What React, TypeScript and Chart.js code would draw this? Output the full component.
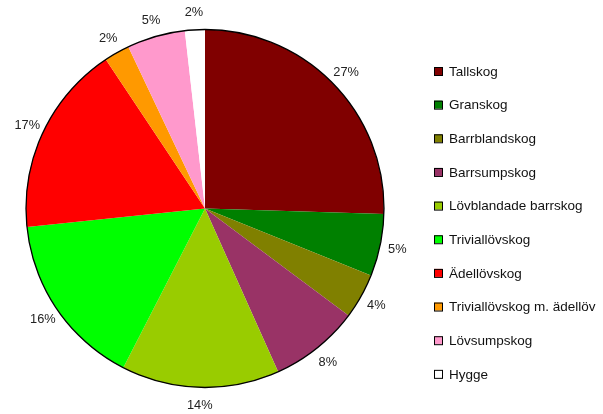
import React, { useEffect, useRef } from "react";
import { Chart, registerables } from "chart.js";

Chart.register(...registerables);

const categories = [
  "Tallskog",
  "Granskog",
  "Barrblandskog",
  "Barrsumpskog",
  "Lövblandade barrskog",
  "Triviallövskog",
  "Ädellövskog",
  "Triviallövskog m. ädellöv",
  "Lövsumpskog",
  "Hygge",
];

// slice sizes (share of the circle, %)
const sliceValues = [25.5, 5.6, 4.1, 8.1, 14.25, 15.8, 17.3, 2.3, 5.25, 1.8];

// percentage labels as printed on the chart
const percentLabels = ["27%", "5%", "4%", "8%", "14%", "16%", "17%", "2%", "5%", "2%"];

const sliceColors = [
  "#800000",
  "#008000",
  "#808000",
  "#993366",
  "#99CC00",
  "#00FF00",
  "#FF0000",
  "#FF9900",
  "#FF99CC",
  "#FFFFFF",
];

const LEGEND_FONT = '13.5px "Liberation Sans", Arial, sans-serif';
const LABEL_FONT = '12.8px "Liberation Sans", Arial, sans-serif';

const decorPlugin = {
  id: "decor",
  afterDatasetsDraw(chart: any) {
    const ctx = chart.ctx as CanvasRenderingContext2D;
    const meta = chart.getDatasetMeta(0);
    const arcs = meta.data as any[];
    if (!arcs.length) return;
    const a0 = arcs[0];
    const cx = a0.x;
    const cy = a0.y;
    const r = a0.outerRadius;

    // outer outline
    ctx.save();
    ctx.beginPath();
    ctx.arc(cx, cy, r, 0, Math.PI * 2);
    ctx.strokeStyle = "#000";
    ctx.lineWidth = 1.3;
    ctx.stroke();
    ctx.restore();

    // percentage labels
    ctx.save();
    ctx.font = LABEL_FONT;
    ctx.fillStyle = "#222";
    ctx.textAlign = "center";
    ctx.textBaseline = "middle";
    arcs.forEach((arc: any, i: number) => {
      const mid = (arc.startAngle + arc.endAngle) / 2;
      const lr = r + 17.5;
      const x = cx + Math.cos(mid) * lr;
      const y = cy + Math.sin(mid) * lr;
      ctx.fillText(percentLabels[i], x, y + 0.5);
    });
    ctx.restore();

    // legend
    ctx.save();
    ctx.font = LEGEND_FONT;
    ctx.textAlign = "left";
    ctx.textBaseline = "middle";
    const lx = 434;
    const ly0 = 71;
    const step = 33.65;
    categories.forEach((name, i) => {
      const y = ly0 + i * step;
      ctx.fillStyle = sliceColors[i];
      ctx.fillRect(lx, y - 4, 8, 8);
      ctx.strokeStyle = "#000";
      ctx.lineWidth = 1;
      ctx.strokeRect(lx + 0.5, y - 3.5, 8, 8);
      ctx.fillStyle = "#111";
      ctx.fillText(name, lx + 15, y + 1);
    });
    ctx.restore();
  },
};

export default function App() {
  const canvasRef = useRef<HTMLCanvasElement | null>(null);

  useEffect(() => {
    if (!canvasRef.current) return;
    const chart = new Chart(canvasRef.current, {
      type: "pie",
      data: {
        labels: categories,
        datasets: [
          {
            data: sliceValues,
            backgroundColor: sliceColors,
            borderWidth: 0,
          },
        ],
      },
      options: {
        responsive: false,
        animation: false,
        layout: { padding: { left: 26, right: 219, top: 29.5, bottom: 26.5 } },
        plugins: {
          legend: { display: false },
          tooltip: { enabled: false },
        },
      },
      plugins: [decorPlugin],
    });
    return () => chart.destroy();
  }, []);

  return (
    <div style={{ position: "fixed", left: 0, top: 0, width: 603, height: 414, background: "#fff" }}>
      <canvas ref={canvasRef} width={603} height={414} />
    </div>
  );
}
